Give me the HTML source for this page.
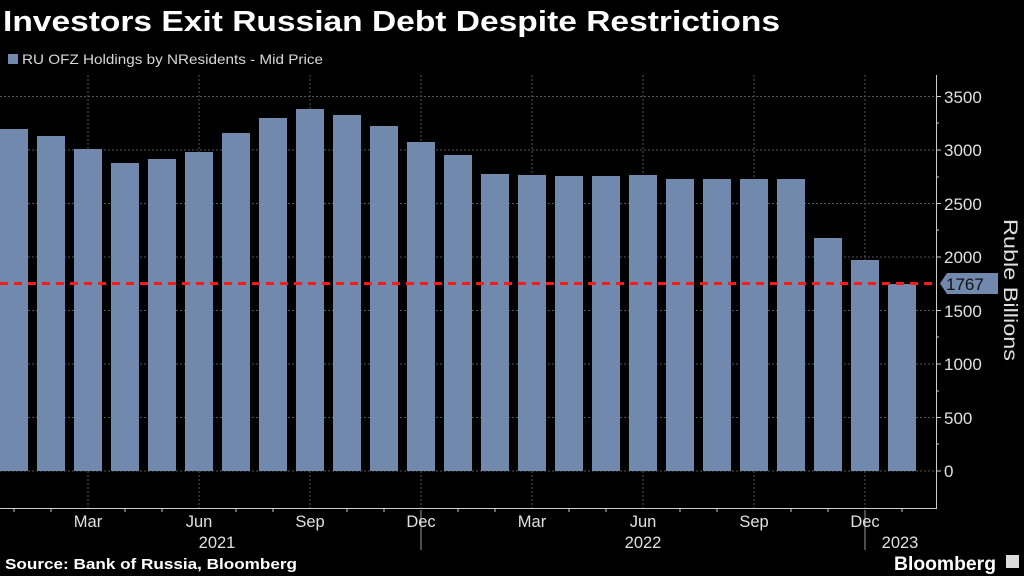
<!DOCTYPE html>
<html><head><meta charset="utf-8"><style>
html,body{margin:0;padding:0;background:#000;width:1024px;height:576px;overflow:hidden}
svg{display:block;font-family:"Liberation Sans","DejaVu Sans",sans-serif}
</style></head><body>
<svg width="1024" height="576" viewBox="0 0 1024 576" xmlns="http://www.w3.org/2000/svg">
<rect width="1024" height="576" fill="#000"/>
<text x="3" y="31" fill="#fff" font-size="29" font-weight="bold" textLength="777" lengthAdjust="spacingAndGlyphs">Investors Exit Russian Debt Despite Restrictions</text>
<rect x="8" y="54" width="10" height="10" fill="#7189ad"/>
<text x="22" y="64" fill="#d8d8d8" font-size="14" textLength="301" lengthAdjust="spacingAndGlyphs">RU OFZ Holdings by NResidents - Mid Price</text>
<g stroke="#555" stroke-width="1" stroke-dasharray="2,2">
<line x1="0" x2="936" y1="96.5" y2="96.5"/>
<line x1="0" x2="936" y1="150" y2="150"/>
<line x1="0" x2="936" y1="203.5" y2="203.5"/>
<line x1="0" x2="936" y1="257" y2="257"/>
<line x1="0" x2="936" y1="310.5" y2="310.5"/>
<line x1="0" x2="936" y1="364" y2="364"/>
<line x1="0" x2="936" y1="417.5" y2="417.5"/>
<line x1="0" x2="936" y1="471" y2="471"/>
<line x1="88" x2="88" y1="75" y2="508"/>
<line x1="199" x2="199" y1="75" y2="508"/>
<line x1="310" x2="310" y1="75" y2="508"/>
<line x1="421" x2="421" y1="75" y2="508"/>
<line x1="532" x2="532" y1="75" y2="508"/>
<line x1="643" x2="643" y1="75" y2="508"/>
<line x1="754" x2="754" y1="75" y2="508"/>
<line x1="865" x2="865" y1="75" y2="508"/>
</g>
<g fill="#7189ad">
<rect x="0" y="129" width="28" height="342"/>
<rect x="37" y="136" width="28" height="335"/>
<rect x="74" y="149" width="28" height="322"/>
<rect x="111" y="163" width="28" height="308"/>
<rect x="148" y="159" width="28" height="312"/>
<rect x="185" y="152" width="28" height="319"/>
<rect x="222" y="133" width="28" height="338"/>
<rect x="259" y="118" width="28" height="353"/>
<rect x="296" y="109" width="28" height="362"/>
<rect x="333" y="115" width="28" height="356"/>
<rect x="370" y="126" width="28" height="345"/>
<rect x="407" y="142" width="28" height="329"/>
<rect x="444" y="155" width="28" height="316"/>
<rect x="481" y="174" width="28" height="297"/>
<rect x="518" y="175" width="28" height="296"/>
<rect x="555" y="176" width="28" height="295"/>
<rect x="592" y="176" width="28" height="295"/>
<rect x="629" y="175" width="28" height="296"/>
<rect x="666" y="179" width="28" height="292"/>
<rect x="703" y="179" width="28" height="292"/>
<rect x="740" y="179" width="28" height="292"/>
<rect x="777" y="179" width="28" height="292"/>
<rect x="814" y="238" width="28" height="233"/>
<rect x="851" y="260" width="28" height="211"/>
<rect x="888" y="284" width="28" height="187"/>
</g>
<line x1="0" x2="936" y1="283.5" y2="283.5" stroke="#ff1a1a" stroke-width="3" stroke-dasharray="8,6"/>
<g stroke="#ccc" stroke-width="1">
<line x1="0" x2="937" y1="508.5" y2="508.5"/>
<line x1="936.5" x2="936.5" y1="75" y2="509"/>
</g>
<g stroke="#ccc">
<path d="M14 508v4M51 508v4M125 508v4M162 508v4M236 508v4M273 508v4M347 508v4M384 508v4M458 508v4M495 508v4M569 508v4M606 508v4M680 508v4M717 508v4M791 508v4M828 508v4M902 508v4"/>
<path d="M936 96.5h5M936 150h5M936 203.5h5M936 257h5M936 310.5h5M936 364h5M936 417.5h5M936 471h5"/>
<path d="M936 123h3M936 177h3M936 230h3M936 337h3M936 391h3M936 444h3"/>
<path d="M421 510v40M865 510v40" stroke="#999"/>
</g>
<g fill="#e0e0e0" font-size="17">
<text x="944" y="103">3500</text>
<text x="944" y="156">3000</text>
<text x="944" y="210">2500</text>
<text x="944" y="263">2000</text>
<text x="944" y="317">1500</text>
<text x="944" y="370">1000</text>
<text x="944" y="424">500</text>
<text x="944" y="477">0</text>
</g>
<path d="M940 283.5 L947 273 H998 V294 H947 Z" fill="#7189ad"/>
<text x="946" y="290" fill="#111" font-size="17">1767</text>
<text transform="translate(1004,290) rotate(90)" fill="#e0e0e0" font-size="19" text-anchor="middle" textLength="142" lengthAdjust="spacingAndGlyphs">Ruble Billions</text>
<g fill="#e0e0e0" font-size="16.5" text-anchor="middle">
<text x="88" y="527">Mar</text>
<text x="199" y="527">Jun</text>
<text x="310" y="527">Sep</text>
<text x="421" y="527">Dec</text>
<text x="532" y="527">Mar</text>
<text x="643" y="527">Jun</text>
<text x="754" y="527">Sep</text>
<text x="865" y="527">Dec</text>
<text x="217" y="548">2021</text>
<text x="643" y="548">2022</text>
<text x="900" y="548">2023</text>
</g>
<text x="5" y="569" fill="#fff" font-size="15" font-weight="bold" textLength="292" lengthAdjust="spacingAndGlyphs">Source: Bank of Russia, Bloomberg</text>
<text x="894" y="570" fill="#fff" font-size="19" font-weight="bold" textLength="102" lengthAdjust="spacingAndGlyphs">Bloomberg</text>
<rect x="1006" y="555" width="13" height="13" fill="#ddd"/>
</svg>
</body></html>
